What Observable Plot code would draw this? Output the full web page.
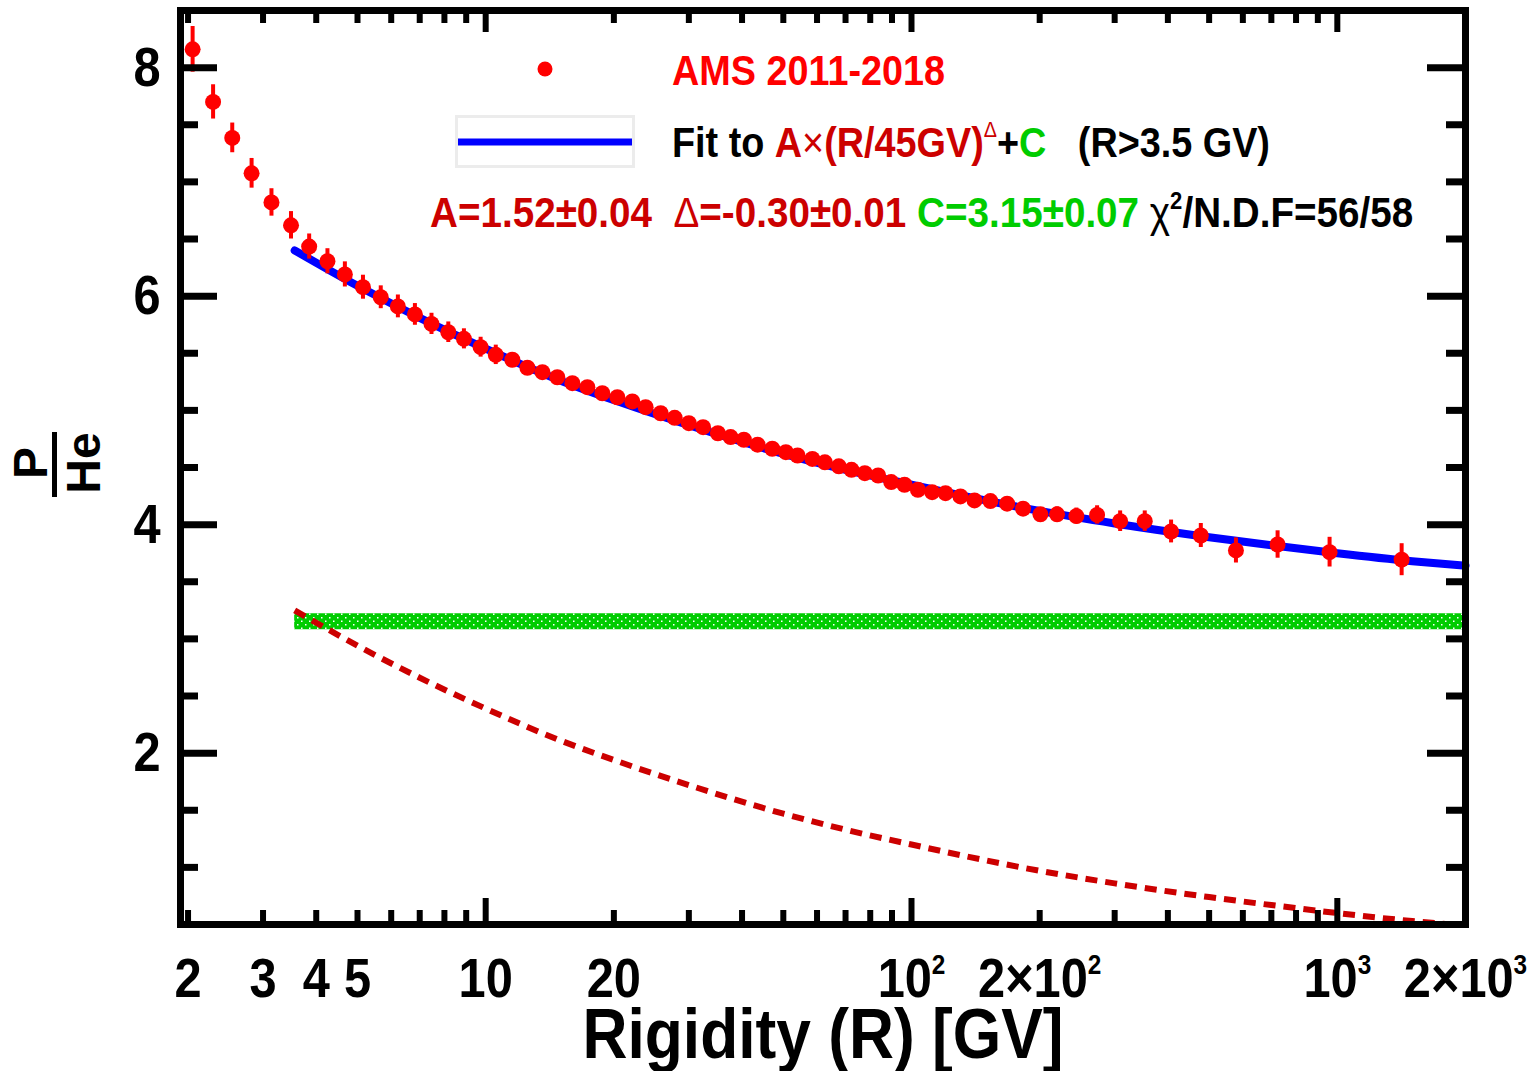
<!DOCTYPE html>
<html>
<head>
<meta charset="utf-8">
<script src="https://cdn.jsdelivr.net/npm/d3@7"></script>
<script src="https://cdn.jsdelivr.net/npm/@observablehq/plot@0.6"></script>
<style>
  html, body { margin: 0; padding: 0; background: white; }
  #chart svg { display: block; }
</style>
</head>
<body>
<div id="chart"></div>
<script>
// ---------------- data ----------------
const rigidity = [2.05, 2.29, 2.54, 2.82, 3.14, 3.49, 3.85, 4.25, 4.67, 5.15, 5.67, 6.22, 6.82, 7.46, 8.17, 8.89, 9.73,
  10.56, 11.55, 12.53, 13.59, 14.73, 15.98, 17.33, 18.79, 20.38, 22.1, 23.75, 25.76, 27.79, 30.0, 32.4, 35.1, 37.6,
  40.4, 43.5, 47.1, 50.7, 54.0, 58.5, 62.6, 67.5, 72.3, 77.7, 83.5, 89.6, 96.3, 103.5, 111.8, 120.2, 130.3, 140.6,
  153.2, 167.7, 182.8, 200.8, 219.7, 243.9, 272.8, 309, 353, 407, 478, 578, 724, 959, 1416];
const ratio = [8.16, 7.70, 7.385, 7.075, 6.82, 6.62, 6.434, 6.305, 6.19, 6.078, 5.99, 5.91, 5.84, 5.757, 5.684, 5.626, 5.553,
  5.486, 5.443, 5.373, 5.334, 5.29, 5.238, 5.203, 5.15, 5.115, 5.078, 5.028, 4.975, 4.935, 4.888, 4.853, 4.80, 4.766,
  4.743, 4.70, 4.664, 4.634, 4.605, 4.575, 4.545, 4.51, 4.48, 4.45, 4.43, 4.372, 4.349, 4.305, 4.284, 4.275, 4.247, 4.212,
  4.206, 4.183, 4.14, 4.09, 4.09, 4.075, 4.085, 4.03, 4.03, 3.94, 3.905, 3.774, 3.826, 3.759, 3.693];
const ratioErr = [0.20, 0.15, 0.13, 0.13, 0.12, 0.12, 0.11, 0.11, 0.11, 0.105, 0.10, 0.10, 0.095, 0.093, 0.09, 0.088, 0.087,
  0.085, 0.06, 0.06, 0.055, 0.055, 0.055, 0.055, 0.055, 0.055, 0.055, 0.055, 0.055, 0.055, 0.055, 0.055, 0.055, 0.055,
  0.055, 0.055, 0.055, 0.055, 0.055, 0.055, 0.055, 0.055, 0.055, 0.055, 0.055, 0.055, 0.055, 0.055, 0.055, 0.055, 0.055, 0.055,
  0.055, 0.06, 0.06, 0.06, 0.065, 0.07, 0.08, 0.09, 0.09, 0.10, 0.105, 0.11, 0.12, 0.13, 0.14];

// fit curve A×(R/45GV)^Δ + C and its power-law part (dashed)
const fitR      = [3.56, 5, 7, 10, 15, 20, 30, 50, 70, 100, 150, 200, 300, 500, 700, 1000, 1500, 2000];
const fitTotal  = [6.40, 6.09, 5.81, 5.54, 5.26, 5.09, 4.87, 4.62, 4.48, 4.35, 4.21, 4.12, 4.01, 3.89, 3.82, 3.75, 3.68, 3.64];
const fitPower  = [3.25, 2.94, 2.66, 2.39, 2.11, 1.94, 1.72, 1.47, 1.33, 1.20, 1.06, 0.97, 0.86, 0.74, 0.67, 0.60, 0.53, 0.49];

// constant C band (3.15 ± 0.07)
const bandR    = [3.56, 2000];
const bandLow  = [3.08, 3.08];
const bandHigh = [3.22, 3.22];

// axes
const yTicksMajor = [2, 4, 6, 8];
const yTicksMinor = [1, 1.5, 2.5, 3, 3.5, 4.5, 5, 5.5, 6.5, 7, 7.5];
const xTicksMajor = [10, 100, 1000];
const xTicksMinor = [2, 3, 4, 5, 6, 7, 8, 9, 20, 30, 40, 50, 60, 70, 80, 90, 200, 300, 400, 500, 600, 700, 800, 900];
const xLabelValues = [2, 3, 4, 5, 10, 20, 100, 200, 1000, 2000];
const xLabelText   = ["2", "3", "4", "5", "10", "20", "10^2", "2×10^2", "10^3", "2×10^3"];
const xTitle = "Rigidity (R) [GV]";

// ---------------- tables ----------------
const points = rigidity.map((R, i) => ({R, v: ratio[i], e: ratioErr[i]}));
const fit = fitR.map((R, i) => ({R, total: fitTotal[i], power: fitPower[i]}));
const band = bandR.map((R, i) => ({R, lo: bandLow[i], hi: bandHigh[i]}));
const xLabels = xLabelValues.map((v, i) => ({v, t: xLabelText[i]}));

const W = 1537, H = 1071;
const mT = 10, mB = 147, mL = 180, mR = 72;
const FW = W - mL - mR, FH = H - mT - mB;
const FONT = "'Liberation Sans', Arial, Helvetica, sans-serif";
const SQ = 0.87;

const chart = Plot.plot({
  width: W, height: H,
  marginTop: mT, marginBottom: mB, marginLeft: mL, marginRight: mR,
  style: {fontFamily: FONT, fontWeight: "bold", background: "white", color: "black", overflow: "visible"},
  x: {type: "log", domain: [1.92, 2000], label: null, axis: null},
  y: {domain: [0.5, 8.5], label: null},
  marks: [
    Plot.areaY(band, {x: "R", y1: "lo", y2: "hi", fill: "#00cc00"}),
    Plot.line(fit, {x: "R", y: "power", stroke: "#cc0000", strokeWidth: 6, strokeDasharray: "12,8",
      strokeLinecap: "butt", curve: "monotone-x", clip: true}),
    Plot.line(fit, {x: "R", y: "total", stroke: "#0000ff", strokeWidth: 8, curve: "monotone-x"}),
    Plot.ruleX(points, {x: "R", y1: d => d.v - d.e, y2: d => d.v + d.e, stroke: "#ff0000", strokeWidth: 4}),
    Plot.dot(points, {x: "R", y: "v", r: 8, fill: "#ff0000", stroke: "none"}),
    // inward ticks
    Plot.ruleY(yTicksMajor, {insetRight: FW - 37, stroke: "black", strokeWidth: 7}),
    Plot.ruleY(yTicksMinor, {insetRight: FW - 18, stroke: "black", strokeWidth: 7}),
    Plot.ruleY(yTicksMajor, {insetLeft: FW - 38, stroke: "black", strokeWidth: 7}),
    Plot.ruleY(yTicksMinor, {insetLeft: FW - 19, stroke: "black", strokeWidth: 7}),
    Plot.ruleX(xTicksMajor, {insetTop: FH - 26, stroke: "black", strokeWidth: 6}),
    Plot.ruleX(xTicksMinor, {insetTop: FH - 14, stroke: "black", strokeWidth: 6}),
    Plot.ruleX(xTicksMajor, {insetBottom: FH - 22, stroke: "black", strokeWidth: 6}),
    Plot.ruleX(xTicksMinor, {insetBottom: FH - 13, stroke: "black", strokeWidth: 6}),
    Plot.frame({stroke: "black", strokeWidth: 7}),
    Plot.axisY({ticks: yTicksMajor, tickSize: 0, tickPadding: 20, fontSize: 56, fontWeight: "bold", label: null}),
    Plot.text(xLabels, {x: "v", text: "t", frameAnchor: "bottom", lineAnchor: "top", dy: 33,
      fontSize: 56, fontWeight: "bold", fill: "black"}),
    Plot.text([xTitle], {frameAnchor: "bottom", lineAnchor: "top", dy: 84, fontSize: 70, fontWeight: "bold"})
  ]
});
document.getElementById("chart").appendChild(chart);

// ---------------- post styling ----------------
const svg = d3.select(chart);

// green dotted fill pattern for the C band
const defs = svg.insert("defs", ":first-child");
const pat = defs.append("pattern").attr("id", "bandFill").attr("patternUnits", "userSpaceOnUse")
  .attr("width", 8).attr("height", 7);
pat.append("rect").attr("width", 8).attr("height", 7).attr("fill", "#00cc00");
pat.append("rect").attr("x", 1).attr("y", 1).attr("width", 1.5).attr("height", 1.5).attr("fill", "#ffffff");
pat.append("rect").attr("x", 5).attr("y", 4.5).attr("width", 1.5).attr("height", 1.5).attr("fill", "#ffffff");
svg.selectAll('g[aria-label="area"] path').attr("fill", "url(#bandFill)");

// horizontally condensed lettering (as in the original)
function squeeze(el, k) {
  let t = el.getAttribute("transform");
  if (!t) {
    const x = parseFloat(el.getAttribute("x") || 0);
    el.setAttribute("x", 0);
    t = `translate(${x},0)`;
  }
  el.setAttribute("transform", `${t} scale(${k},1)`);
}

// x tick labels (superscripts) and title
svg.selectAll('g[aria-label="text"] text').each(function () {
  const s = this.textContent;
  if (s === xTitle) { squeeze(this, 0.89); return; }
  if (s.includes("^")) {
    const [b, e] = s.split("^");
    const el = d3.select(this);
    el.text(null);
    if (b.includes("×")) {
      const [m, rest] = b.split("×");
      el.append("tspan").text(m);
      el.append("tspan").text("×");
      el.append("tspan").text(rest);
    } else {
      el.append("tspan").text(b);
    }
    el.append("tspan").attr("font-size", "28px").attr("dy", "-23").text(e);
  }
  squeeze(this, SQ);
});
svg.selectAll('g[aria-label="y-axis tick label"] text').each(function () { squeeze(this, SQ); });

// y title: P / He fraction, rotated
const yt = svg.append("g").attr("transform", "translate(57,463) rotate(-90)")
  .attr("font-family", FONT).attr("font-weight", "bold").attr("font-size", 48).attr("text-anchor", "middle");
yt.append("text").attr("x", 0).attr("y", -10).text("P");
yt.append("line").attr("x1", -34).attr("x2", 31).attr("y1", -2.5).attr("y2", -2.5)
  .attr("stroke", "black").attr("stroke-width", 5);
yt.append("text").attr("x", 0).attr("y", 43).text("He");

// legend
const DR = "#cc0000", GR = "#00cc00";
const leg = svg.append("g").attr("font-family", FONT).attr("font-weight", "bold").attr("font-size", 42)
  .attr("text-anchor", "start").style("white-space", "pre");
leg.append("circle").attr("cx", 545).attr("cy", 69).attr("r", 7.5).attr("fill", "#ff0000");
leg.append("rect").attr("x", 456.5).attr("y", 116.5).attr("width", 177).attr("height", 50)
  .attr("fill", "none").attr("stroke", "#ececec").attr("stroke-width", 3);
leg.append("line").attr("x1", 458).attr("x2", 632).attr("y1", 142).attr("y2", 142)
  .attr("stroke", "#0000ff").attr("stroke-width", 7);

function legendLine(x, y, k, parts) {
  const t = leg.append("text").attr("text-anchor", "start")
    .attr("transform", `translate(${x},${y}) scale(${k},1)`);
  for (const p of parts) {
    const s = t.append("tspan").text(p.t).attr("fill", p.c || "black");
    if (p.w) s.attr("font-weight", p.w);
    if (p.sup) s.attr("font-size", p.sup).attr("dy", p.dy);
    if (p.back) s.attr("dy", p.back);
  }
}
legendLine(672, 85, 0.90, [{t: "AMS 2011-2018", c: "#ff0000"}]);
legendLine(672, 157, 0.90, [
  {t: "Fit to "}, {t: "A", c: DR}, {t: "×", c: DR, w: "normal"}, {t: "(R/45GV)", c: DR},
  {t: "Δ", c: DR, w: "normal", sup: 22, dy: -20},
  {t: "+", back: 20}, {t: "C", c: GR}, {t: "   (R>3.5 GV)"}
]);
legendLine(430, 227, 0.92, [
  {t: "A=1.52±0.04", c: DR}, {t: "  "},
  {t: "Δ", c: DR, w: "normal"}, {t: "=-0.30±0.01", c: DR}, {t: " "},
  {t: "C=3.15±0.07", c: GR}, {t: " "},
  {t: "χ", w: "normal"}, {t: "2", sup: 24, dy: -18}, {t: "/N.D.F=56/58", back: 18}
]);
</script>
</body>
</html>
